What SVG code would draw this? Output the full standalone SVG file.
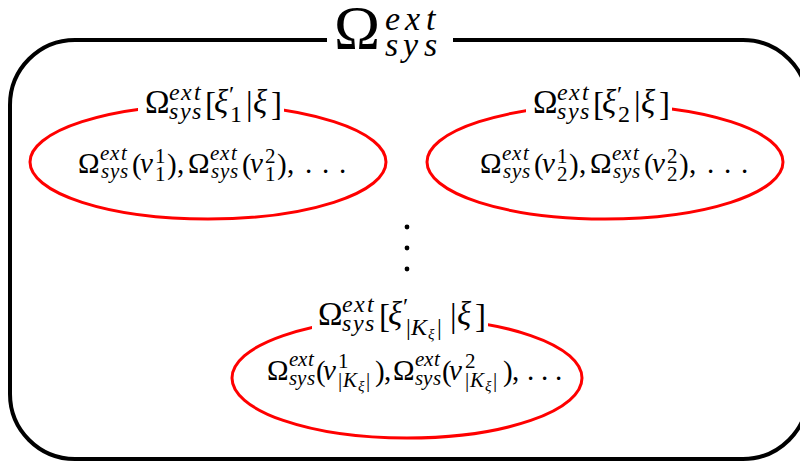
<svg xmlns="http://www.w3.org/2000/svg" width="800" height="464" viewBox="0 0 800 464">
<rect width="800" height="464" fill="#fff"/>
<g id="frame">
<rect x="10" y="40" width="798" height="419" rx="65" ry="65" fill="none" stroke="#000" stroke-width="4"/>
</g>
<g id="title">
<rect fill="#fff" x="327" y="28" width="126" height="24"/>
<text font-family="Liberation Serif" font-size="62" x="334" y="48">Ω<tspan font-size="34" font-style="italic" x="385 405 426" y="30">ext</tspan><tspan font-size="34" font-style="italic" x="385 403 424" y="56">sys</tspan></text>
</g>
<g id="set1">
<ellipse cx="208" cy="162" rx="178" ry="57" fill="none" stroke="#f00" stroke-width="3"/>
<rect fill="#fff" x="138" y="84" width="146" height="42"/>
<text font-family="Liberation Serif" font-size="33" x="145" y="113">Ω<tspan font-size="24" font-style="italic" x="169 181 194" y="100">ext</tspan><tspan font-size="24" font-style="italic" x="169 180 192" y="119">sys</tspan><tspan x="205" y="115">[</tspan><tspan font-style="italic" x="214" y="113">ξ</tspan><tspan font-size="24" x="229" y="102">′</tspan><tspan font-size="24" x="230" y="122">1</tspan><tspan x="246" y="115">|</tspan><tspan font-style="italic" x="253" y="113">ξ</tspan><tspan x="271" y="115">]</tspan></text>
<text font-family="Liberation Serif" font-size="29" x="78" y="173">Ω<tspan font-size="21" font-style="italic" x="100 110 121" y="160">ext</tspan><tspan font-size="21" font-style="italic" x="101 110 120" y="178">sys</tspan><tspan x="132" y="174">(</tspan><tspan font-style="italic" x="140" y="173">ν</tspan><tspan font-size="21" x="155" y="163">1</tspan><tspan font-size="21" x="155" y="181">1</tspan><tspan x="167" y="174">)</tspan><tspan x="177" y="173">,</tspan><tspan x="188" y="173">Ω</tspan><tspan font-size="21" font-style="italic" x="210 220 231" y="160">ext</tspan><tspan font-size="21" font-style="italic" x="211 220 230" y="178">sys</tspan><tspan x="242" y="174">(</tspan><tspan font-style="italic" x="250" y="173">ν</tspan><tspan font-size="21" x="265" y="163">2</tspan><tspan font-size="21" x="265" y="181">1</tspan><tspan x="277" y="174">)</tspan><tspan x="287" y="173">,</tspan><tspan x="305 322 339" y="173">...</tspan></text>
</g>
<g id="set2">
<ellipse cx="605" cy="162" rx="178" ry="57" fill="none" stroke="#f00" stroke-width="3"/>
<rect fill="#fff" x="526" y="84" width="146" height="42"/>
<text font-family="Liberation Serif" font-size="33" x="533" y="113">Ω<tspan font-size="24" font-style="italic" x="557 569 582" y="100">ext</tspan><tspan font-size="24" font-style="italic" x="557 568 580" y="119">sys</tspan><tspan x="593" y="115">[</tspan><tspan font-style="italic" x="602" y="113">ξ</tspan><tspan font-size="24" x="617" y="102">′</tspan><tspan font-size="24" x="618" y="122">2</tspan><tspan x="634" y="115">|</tspan><tspan font-style="italic" x="641" y="113">ξ</tspan><tspan x="659" y="115">]</tspan></text>
<text font-family="Liberation Serif" font-size="29" x="480" y="173">Ω<tspan font-size="21" font-style="italic" x="502 512 523" y="160">ext</tspan><tspan font-size="21" font-style="italic" x="503 512 522" y="178">sys</tspan><tspan x="534" y="174">(</tspan><tspan font-style="italic" x="542" y="173">ν</tspan><tspan font-size="21" x="557" y="163">1</tspan><tspan font-size="21" x="557" y="181">2</tspan><tspan x="569" y="174">)</tspan><tspan x="579" y="173">,</tspan><tspan x="590" y="173">Ω</tspan><tspan font-size="21" font-style="italic" x="612 622 633" y="160">ext</tspan><tspan font-size="21" font-style="italic" x="613 622 632" y="178">sys</tspan><tspan x="644" y="174">(</tspan><tspan font-style="italic" x="652" y="173">ν</tspan><tspan font-size="21" x="667" y="163">2</tspan><tspan font-size="21" x="667" y="181">2</tspan><tspan x="679" y="174">)</tspan><tspan x="689" y="173">,</tspan><tspan x="707 724 741" y="173">...</tspan></text>
</g>
<g id="vdots">
<circle cx="407" cy="227" r="2.4"/>
<circle cx="407" cy="248" r="2.4"/>
<circle cx="407" cy="269" r="2.4"/>
</g>
<g id="set3">
<ellipse cx="407" cy="378" rx="175" ry="60" fill="none" stroke="#f00" stroke-width="3"/>
<rect fill="#fff" x="312" y="294" width="176" height="50"/>
<text font-family="Liberation Serif" font-size="33" x="318" y="325">Ω<tspan font-size="24" font-style="italic" x="342 354 367" y="312">ext</tspan><tspan font-size="24" font-style="italic" x="342 353 365" y="331">sys</tspan><tspan x="379" y="327">[</tspan><tspan font-style="italic" x="388" y="325">ξ</tspan><tspan font-size="24" x="403" y="314">′</tspan><tspan font-size="24" x="406" y="335">|</tspan><tspan font-size="24" font-style="italic" x="411" y="335">K</tspan><tspan font-size="15" font-style="italic" x="428" y="339">ξ</tspan><tspan font-size="24" x="437" y="335">|</tspan><tspan x="450" y="327">|</tspan><tspan font-style="italic" x="457" y="325">ξ</tspan><tspan x="475" y="327">]</tspan></text>
<text font-family="Liberation Serif" font-size="29" x="267" y="380">Ω<tspan font-size="21" font-style="italic" x="289 298 308" y="366">ext</tspan><tspan font-size="21" font-style="italic" x="289 297 307" y="385">sys</tspan><tspan x="316" y="381">(</tspan><tspan font-style="italic" x="323" y="380">ν</tspan><tspan font-size="21" x="338" y="368">1</tspan><tspan font-size="21" x="338" y="387">|</tspan><tspan font-size="21" font-style="italic" x="343" y="387">K</tspan><tspan font-size="15" font-style="italic" x="358" y="391">ξ</tspan><tspan font-size="21" x="366" y="387">|</tspan><tspan x="375" y="381">)</tspan><tspan x="384" y="380">,</tspan><tspan x="393" y="380">Ω</tspan><tspan font-size="21" font-style="italic" x="415 424 434" y="366">ext</tspan><tspan font-size="21" font-style="italic" x="415 423 433" y="385">sys</tspan><tspan x="442" y="381">(</tspan><tspan font-style="italic" x="449" y="380">ν</tspan><tspan font-size="21" x="465" y="368">2</tspan><tspan font-size="21" x="465" y="387">|</tspan><tspan font-size="21" font-style="italic" x="470" y="387">K</tspan><tspan font-size="15" font-style="italic" x="485" y="391">ξ</tspan><tspan font-size="21" x="493" y="387">|</tspan><tspan x="503" y="381">)</tspan><tspan x="512" y="380">,</tspan><tspan x="527 541 555" y="380">...</tspan></text>
</g>
</svg>
